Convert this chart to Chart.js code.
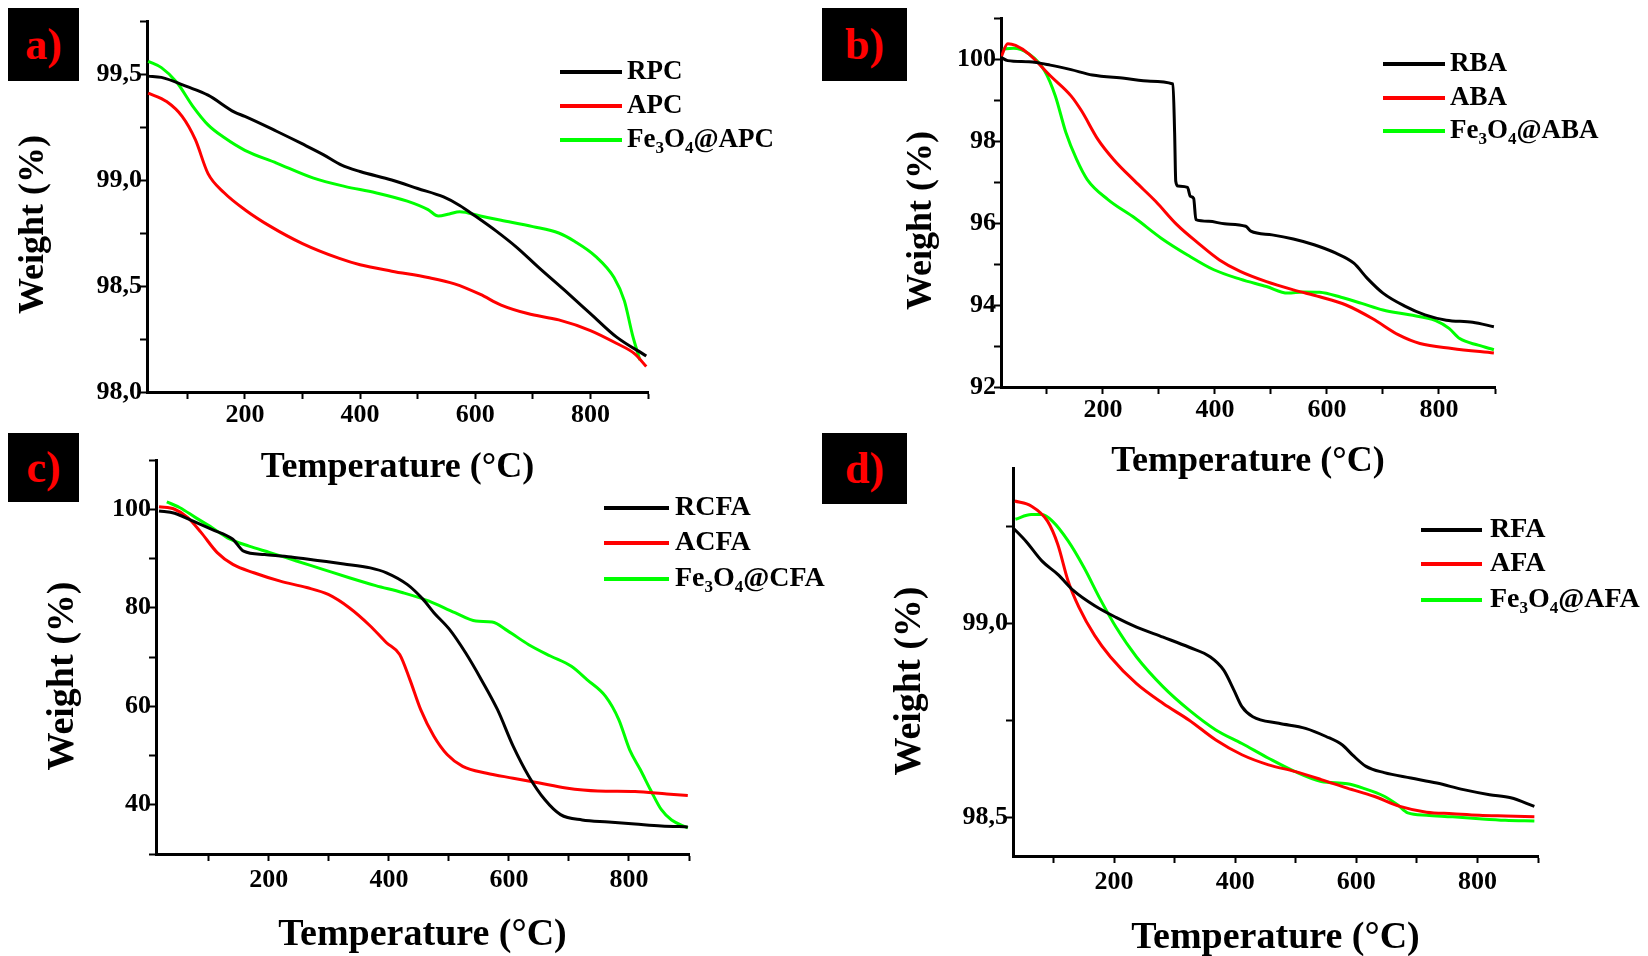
<!DOCTYPE html>
<html><head><meta charset="utf-8">
<script src="https://cdn.jsdelivr.net/npm/chart.js@4.4.0/dist/chart.umd.min.js"></script>
<style>
body{margin:0;width:1648px;height:956px;background:#fff;overflow:hidden;position:relative}
canvas{position:absolute;left:0;top:0}
.lab{position:absolute;background:#000;color:#ff0000;font:bold 44px "Liberation Serif";display:flex;align-items:center;justify-content:center}
</style></head><body>
<canvas id="ca" width="1648" height="956"></canvas>
<canvas id="cb" width="1648" height="956"></canvas>
<canvas id="cc" width="1648" height="956"></canvas>
<canvas id="cd" width="1648" height="956"></canvas>
<div class="lab" style="left:8px;top:8px;width:71px;height:73px">a)</div>
<div class="lab" style="left:822px;top:8px;width:85px;height:73px">b)</div>
<div class="lab" style="left:8px;top:433px;width:71px;height:69px">c)</div>
<div class="lab" style="left:822px;top:433px;width:85px;height:71px">d)</div>
<script>
// ---------- data (temperature °C / weight %) ----------
const xTicks = [100,200,300,400,500,600,700,800,900];
const xLabeled = [200,400,600,800];

// panel a
const rpcT = [32,55,100,136,182,200,255,300,336,368,400,455,500,545,573,600,636,673,709,755,800,845,897];
const rpcW = [99.49,99.484,99.44,99.40,99.32,99.30,99.23,99.17,99.12,99.07,99.04,99.00,98.96,98.92,98.88,98.83,98.76,98.68,98.59,98.48,98.37,98.26,98.17];
const apcT = [32,64,91,114,136,164,200,245,300,364,400,455,518,564,609,645,691,745,800,845,877,897];
const apcW = [99.41,99.37,99.30,99.19,99.03,98.94,98.86,98.78,98.70,98.63,98.60,98.57,98.54,98.51,98.46,98.41,98.37,98.34,98.29,98.23,98.18,98.12];
const feApcT = [32,55,82,109,136,164,200,255,318,373,427,482,518,536,555,573,609,645,700,745,773,809,841,859,873,886];
const feApcW = [99.56,99.53,99.46,99.35,99.26,99.20,99.14,99.08,99.01,98.97,98.94,98.90,98.86,98.83,98.84,98.85,98.83,98.81,98.78,98.75,98.71,98.64,98.54,98.43,98.27,98.15];
const aYTicks = [98.0,98.25,98.5,98.75,99.0,99.25,99.5,99.75];
const aYLabeled = [98.0,98.5,99.0,99.5];

// panel b
const rbaT = [18,30,68,106,143,181,238,285,325,328,330,334,351,356,362,366,389,417,455,464,502,540,577,615,648,672,700,738,775,813,860,898];
const rbaW = [100.04,99.96,99.93,99.85,99.74,99.61,99.53,99.46,99.39,98.2,97.02,96.9,96.87,96.65,96.6,96.08,96.04,95.98,95.92,95.80,95.71,95.61,95.47,95.27,95.02,94.65,94.29,93.98,93.76,93.63,93.58,93.47];
const abaT = [18,30,44,68,106,143,162,191,219,257,294,332,370,408,445,492,540,587,634,681,728,766,823,898];
const abaW = [100.04,100.37,100.33,100.12,99.59,99.10,98.73,98.04,97.55,97.02,96.53,95.96,95.51,95.10,94.82,94.57,94.37,94.20,94.00,93.67,93.27,93.06,92.94,92.83];
const feAbaT = [21,40,68,96,115,134,153,172,209,257,304,351,398,445,492,530,558,587,625,662,700,747,794,818,837,870,898];
const feAbaW = [100.24,100.26,100.12,99.71,99.10,98.20,97.55,97.06,96.57,96.12,95.63,95.22,94.86,94.63,94.45,94.29,94.32,94.31,94.19,94.04,93.88,93.76,93.62,93.43,93.18,93.02,92.91];
const bYTicks = [92,93,94,95,96,97,98,99,100,101];
const bYLabeled = [92,94,96,98,100];

// panel c
const rcfaT = [17,43,70,105,140,158,193,237,281,325,369,396,431,457,475,501,528,554,581,607,633,660,686,722,766,810,854,898];
const rcfaW = [99.66,99.2,97.8,95.9,93.9,91.5,90.8,90.3,89.6,88.9,88.1,87.1,84.7,81.7,79.0,75.6,70.8,65.4,59.3,51.9,45.8,41.0,38.0,36.9,36.5,36.1,35.7,35.5];
const acfaT = [17,43,65,87,114,140,175,219,263,299,334,369,396,418,435,453,475,497,523,563,607,651,695,748,810,863,898];
const acfaW = [100.5,100,98.3,95.3,91.2,88.8,87.1,85.4,84.1,82.7,80.0,76.3,72.9,70.5,65.4,59.3,53.9,50.2,47.8,46.4,45.4,44.4,43.4,42.8,42.7,42.2,41.9];
const feCfaT = [30,52,78,105,131,167,202,246,290,334,378,422,466,510,545,572,598,633,669,704,730,761,783,801,819,836,854,871,898];
const feCfaW = [101.5,100.3,98.3,96.3,94.2,92.5,91.2,89.5,87.8,86.1,84.5,83.1,81.4,79.0,77.3,77.1,75.3,72.5,70.2,68.1,65.4,62.0,57.3,51.2,47.1,43.0,39.0,36.9,35.3];
const cYTicks = [30,40,50,60,70,80,90,100,110];
const cYLabeled = [40,60,80,100];

// panel d
const rfaT = [33,55,81,107,133,168,203,237,281,324,359,381,398,411,429,472,516,550,577,594,616,646,690,733,777,820,855,894];
const rfaW = [99.246,99.21,99.16,99.126,99.084,99.045,99.015,98.99,98.964,98.938,98.913,98.879,98.827,98.785,98.759,98.742,98.729,98.708,98.686,98.66,98.631,98.615,98.601,98.588,98.571,98.558,98.55,98.528];
const afaT = [36,63,90,107,124,142,168,194,237,281,324,368,411,455,498,542,585,629,672,716,759,803,846,894];
const afaW = [99.315,99.302,99.263,99.203,99.109,99.041,98.968,98.913,98.844,98.793,98.75,98.699,98.661,98.635,98.618,98.597,98.575,98.554,98.528,98.513,98.509,98.505,98.503,98.501];
const feAfaT = [37,63,81,98,124,150,177,203,237,281,324,368,411,455,498,542,585,611,646,668,685,716,759,803,846,894];
const feAfaW = [99.268,99.28,99.28,99.263,99.212,99.144,99.062,98.99,98.913,98.836,98.776,98.725,98.69,98.652,98.618,98.592,98.586,98.575,98.554,98.532,98.511,98.505,98.501,98.496,98.492,98.490];
const dYTicks = [98.5,98.75,99.0,99.25];
const dYLabeled = [98.5,99.0];

// ---------- drawing ----------
const F = '"Liberation Serif", "Times New Roman", serif';
const COLORS = ['#000000','#ff0000','#00ff00'];
const has = (arr,v)=>arr.some(a=>Math.abs(a-v)<1e-6);

function legendPlugin(L, series){
  return {id:'customLegend', afterDraw(chart){
    const ctx = chart.ctx; ctx.save();
    series.forEach((s,i)=>{
      const y = L.rows[i];
      ctx.strokeStyle = COLORS[i]; ctx.lineWidth = 4;
      ctx.beginPath(); ctx.moveTo(L.x0,y); ctx.lineTo(L.x1,y); ctx.stroke();
      let x = L.tx; ctx.fillStyle = '#000'; ctx.textBaseline = 'middle'; ctx.textAlign = 'left';
      s.parts.forEach(([t,sub])=>{
        const sz = sub ? Math.round(L.size*0.62) : L.size;
        ctx.font = 'bold ' + sz + 'px ' + F;
        ctx.fillText(t, x, y + (sub ? L.size*0.32 : 0));
        x += ctx.measureText(t).width;
      });
    });
    ctx.restore();
  }};
}

function mk(id, p){
  const lh = p.titleSize;
  const padLeft = p.yTitleX - lh/2;
  const padBottom = 956 - (p.xTitleY + lh/2);
  const yW = p.area[0] - padLeft;
  const xH = (p.xTitleY + lh/2) - p.area[3];
  new Chart(document.getElementById(id), {
    type:'line',
    data:{datasets: p.series.map((s,i)=>({
      label:s.name, data:s.T.map((t,j)=>({x:t,y:s.W[j]})),
      borderColor:COLORS[i], borderWidth:3, pointRadius:0, fill:false,
      cubicInterpolationMode:'monotone'}))},
    options:{
      responsive:false, animation:false, devicePixelRatio:1,
      layout:{padding:{left:padLeft, top:p.area[1], right:1648-p.area[2], bottom:padBottom}},
      plugins:{legend:{display:false}, tooltip:{enabled:false}},
      scales:{
        x:{type:'linear', min:p.xMin, max:p.xMax,
          afterFit:s=>{s.height = xH;},
          afterBuildTicks:s=>{s.ticks = xTicks.map(v=>({value:v}));},
          ticks:{autoSkip:false, maxRotation:0, padding:p.xTickPad, color:'#000',
            font:{family:F, weight:'bold', size:p.tickSize},
            callback:v=>has(xLabeled,v)?String(v):''},
          grid:{drawOnChartArea:false, drawTicks:true, tickLength:7, tickWidth:2, tickColor:'#000'},
          border:{display:true, color:'#000', width:3},
          title:{display:true, text:'Temperature (°C)', color:'#000', padding:0,
            font:{family:F, weight:'bold', size:lh, lineHeight:1}}},
        y:{type:'linear', min:p.yMin, max:p.yMax,
          afterFit:s=>{s.width = yW;},
          afterBuildTicks:s=>{s.ticks = p.yTicks.map(v=>({value:v}));},
          ticks:{autoSkip:false, padding:p.yTickPad, color:'#000',
            font:{family:F, weight:'bold', size:p.tickSize},
            callback:v=>has(p.yLabeled,v)?p.fmt(v):''},
          grid:{drawOnChartArea:false, drawTicks:true, tickLength:7, tickWidth:2, tickColor:'#000'},
          border:{display:true, color:'#000', width:3},
          title:{display:true, text:'Weight (%)' + '\u2002'.repeat(p.yShift), color:'#000', padding:0,
            font:{family:F, weight:'bold', size:lh, lineHeight:1}}}
      }
    },
    plugins:[legendPlugin(p.legend, p.series)]
  });
}

const comma1 = v=>v.toFixed(1).replace('.',',');
const int0 = v=>String(Math.round(v));

mk('ca', {area:[147,21,648,392], xMin:30, xMax:900, yMin:98.0, yMax:99.75,
  yTicks:aYTicks, yLabeled:aYLabeled, fmt:comma1, titleSize:36, tickSize:26,
  yTitleX:34, xTitleY:468, xTickPad:1, yTickPad:-2, yShift:2,
  legend:{x0:560,x1:622,tx:627,rows:[72,106,140],size:27},
  series:[{name:'RPC',T:rpcT,W:rpcW,parts:[['RPC',0]]},
          {name:'APC',T:apcT,W:apcW,parts:[['APC',0]]},
          {name:'Fe3O4@APC',T:feApcT,W:feApcW,parts:[['Fe',0],['3',1],['O',0],['4',1],['@APC',0]]}]});

mk('cb', {area:[1001,18,1495,387], xMin:18, xMax:900, yMin:92, yMax:101,
  yTicks:bYTicks, yLabeled:bYLabeled, fmt:int0, titleSize:36, tickSize:26,
  yTitleX:922, xTitleY:462, xTickPad:1, yTickPad:-2, yShift:2,
  legend:{x0:1383,x1:1445,tx:1450,rows:[64,98,131],size:27},
  series:[{name:'RBA',T:rbaT,W:rbaW,parts:[['RBA',0]]},
          {name:'ABA',T:abaT,W:abaW,parts:[['ABA',0]]},
          {name:'Fe3O4@ABA',T:feAbaT,W:feAbaW,parts:[['Fe',0],['3',1],['O',0],['4',1],['@ABA',0]]}]});

mk('cc', {area:[156,460,689,854], xMin:12, xMax:900, yMin:30, yMax:110,
  yTicks:cYTicks, yLabeled:cYLabeled, fmt:int0, titleSize:38, tickSize:26,
  yTitleX:63, xTitleY:935, xTickPad:4, yTickPad:-2, yShift:2,
  legend:{x0:604,x1:669,tx:675,rows:[508,543,579],size:28},
  series:[{name:'RCFA',T:rcfaT,W:rcfaW,parts:[['RCFA',0]]},
          {name:'ACFA',T:acfaT,W:acfaW,parts:[['ACFA',0]]},
          {name:'Fe3O4@CFA',T:feCfaT,W:feCfaW,parts:[['Fe',0],['3',1],['O',0],['4',1],['@CFA',0]]}]});

mk('cd', {area:[1013,468,1538,856], xMin:33, xMax:900, yMin:98.4, yMax:99.4,
  yTicks:dYTicks, yLabeled:dYLabeled, fmt:comma1, titleSize:38, tickSize:26,
  yTitleX:910, xTitleY:938, xTickPad:4, yTickPad:-2, yShift:2,
  legend:{x0:1421,x1:1482,tx:1490,rows:[530,564,600],size:28},
  series:[{name:'RFA',T:rfaT,W:rfaW,parts:[['RFA',0]]},
          {name:'AFA',T:afaT,W:afaW,parts:[['AFA',0]]},
          {name:'Fe3O4@AFA',T:feAfaT,W:feAfaW,parts:[['Fe',0],['3',1],['O',0],['4',1],['@AFA',0]]}]});
</script>
</body></html>
